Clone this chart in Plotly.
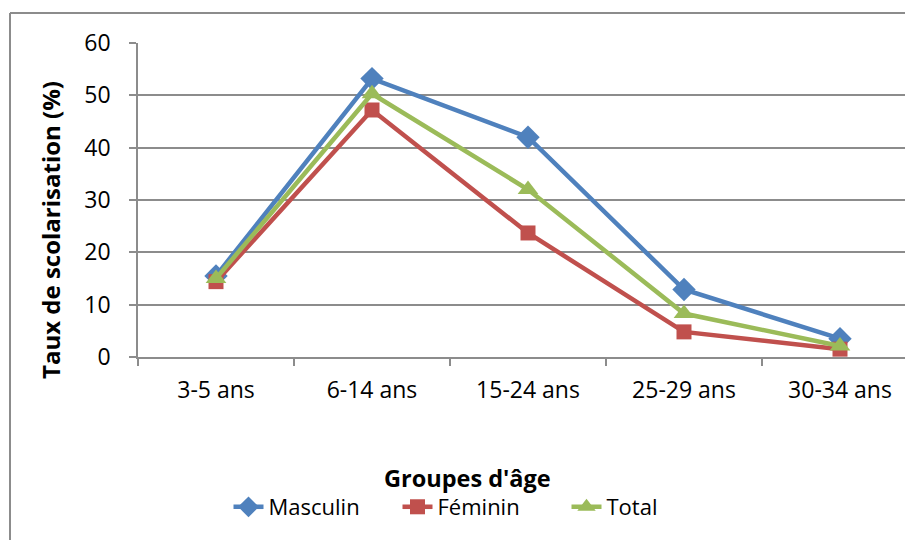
import plotly.graph_objects as go

# Taux de scolarisation par groupe d'âge et par sexe (%)
groupes = ["3-5 ans", "6-14 ans", "15-24 ans", "25-29 ans", "30-34 ans"]
masculin = [15.5, 53.2, 42.0, 12.9, 3.5]
feminin = [14.4, 47.2, 23.7, 4.8, 1.5]
total = [15.0, 50.3, 32.0, 8.3, 2.1]

y_ticks = [0, 10, 20, 30, 40, 50, 60]

BLUE = "#4F81BD"
RED = "#C0504D"
GREEN = "#9BBB59"
GRID = "#8C8C8C"
FONT = "Open Sans"

W, H = 905, 540
ML, MR, MT, MB = 138, 0, 43, 183
PW = W - ML - MR
PH = H - MT - MB


def px_x(p):
    return (p - ML) / PW


def px_y(p):
    return (H - MB - p) / PH


fig = go.Figure()
series = [
    ("Masculin", masculin, BLUE, "diamond", 18),
    ("Féminin", feminin, RED, "square", 15),
    ("Total", total, GREEN, "triangle-up", 18),
]
for name, vals, col, sym, size in series:
    fig.add_trace(go.Scatter(
        x=groupes, y=vals, name=name, mode="lines+markers",
        line=dict(color=col, width=4.5),
        marker=dict(symbol=sym, size=size, color=col),
        cliponaxis=False,
    ))

fig.update_layout(
    width=W, height=H,
    margin=dict(l=ML, r=MR, t=MT, b=MB, pad=0),
    paper_bgcolor="white", plot_bgcolor="white",
    font=dict(family=FONT, size=23, color="#000000"),
    showlegend=True,
    legend=dict(
        orientation="h", xanchor="center", yanchor="middle",
        x=px_x(482), y=px_y(507),
        font=dict(family=FONT, size=22, color="#000000"),
        itemwidth=30, entrywidth=124, entrywidthmode="pixels",
        tracegroupgap=0, bgcolor="rgba(0,0,0,0)",
    ),
    xaxis=dict(
        type="category", categoryorder="array", categoryarray=groupes,
        range=[-0.5, -0.5 + PW / 156.0],
        showgrid=False, showline=True, linecolor=GRID, linewidth=1.5,
        ticks="outside", tickson="boundaries", ticklen=7, tickwidth=1.5,
        tickcolor=GRID, ticklabelstandoff=12,
        tickfont=dict(family=FONT, size=23, color="#000000"),
        zeroline=False, fixedrange=True,
    ),
    yaxis=dict(
        range=[0, 60], tickvals=y_ticks,
        showgrid=True, gridcolor=GRID, gridwidth=1.5,
        showline=True, linecolor=GRID, linewidth=1.5,
        ticks="outside", ticklen=7, tickwidth=1.5, tickcolor=GRID,
        ticklabelstandoff=14,
        tickfont=dict(family=FONT, size=23, color="#000000"),
        zeroline=False, fixedrange=True,
    ),
    annotations=[
        dict(
            text="<b>Taux de scolarisation (%)</b>", textangle=-90,
            xref="paper", yref="paper", x=px_x(50), y=px_y(230),
            xanchor="center", yanchor="middle", showarrow=False,
            font=dict(family=FONT, size=24, color="#000000"),
        ),
        dict(
            text="<b>Groupes d'âge</b>",
            xref="paper", yref="paper", x=px_x(467), y=px_y(478),
            xanchor="center", yanchor="middle", showarrow=False,
            font=dict(family=FONT, size=23.5, color="#000000"),
        ),
    ],
    shapes=[
        # chart frame (top and left edges)
        dict(type="line", xref="paper", yref="paper",
             x0=px_x(10), x1=px_x(W + 5), y0=px_y(13), y1=px_y(13),
             line=dict(color=GRID, width=2)),
        dict(type="line", xref="paper", yref="paper",
             x0=px_x(10), x1=px_x(10), y0=px_y(13), y1=px_y(H + 5),
             line=dict(color=GRID, width=2)),
    ],
)

fig.write_html("out.html")
